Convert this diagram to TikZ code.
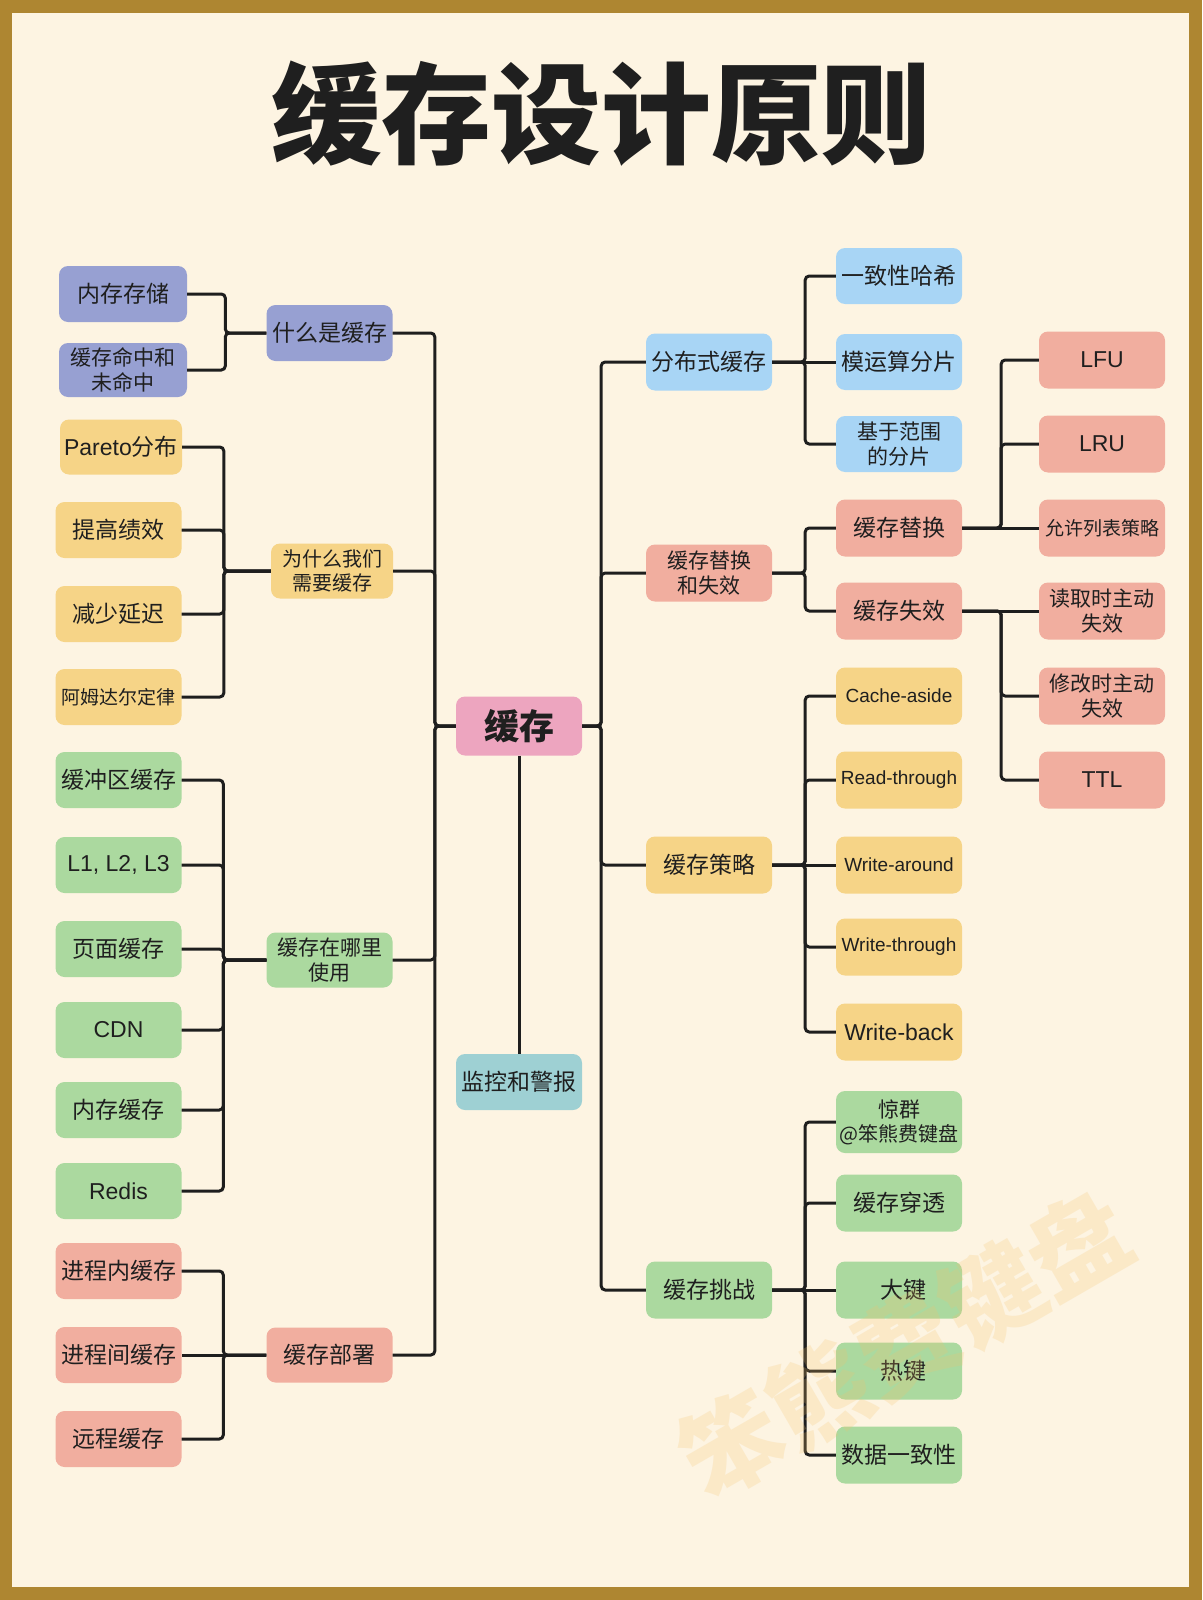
\documentclass[tikz,border=0pt]{standalone}
\usepackage{fontspec}
\setmainfont{Liberation Sans}
\newfontfamily\cjk{Noto Sans CJK SC}
\newfontfamily\lat{Liberation Sans}
\definecolor{gold}{HTML}{AE8631}
\definecolor{cream}{HTML}{FDF4E2}
\definecolor{txt}{HTML}{1F1F1F}
\definecolor{linec}{HTML}{1E1E1E}
\definecolor{cpurple}{HTML}{97A0D2}
\definecolor{cyellow}{HTML}{F6D487}
\definecolor{cgreen}{HTML}{ABD99F}
\definecolor{csalmon}{HTML}{F1AE9F}
\definecolor{cblue}{HTML}{A8D5F5}
\definecolor{cpink}{HTML}{EDA5BF}
\definecolor{cteal}{HTML}{9ED0D3}
\definecolor{wm}{HTML}{F5C26B}
\tikzset{
  box/.style={rounded corners=9pt, minimum width=126pt, minimum height=56pt, inner sep=0pt, align=center, text=txt, font=\cjk\fontsize{23}{26}\selectfont},
  sm/.style={font=\cjk\fontsize{21}{24.5}\selectfont},
  xs/.style={font=\cjk\fontsize{19}{23}\selectfont},
  en/.style={font=\lat\fontsize{19}{22}\selectfont},
  enl/.style={font=\lat\fontsize{23}{26}\selectfont},
  pu/.style={box, fill=cpurple},
  ye/.style={box, fill=cyellow},
  gr/.style={box, fill=cgreen},
  sa/.style={box, fill=csalmon},
  bl/.style={box, fill=cblue},
  conn/.style={draw=linec, line width=3pt, rounded corners=4pt}
}
\begin{document}
\begin{tikzpicture}[x=1pt,y=-1pt]
\fill[gold] (0,0) rectangle (1202,1600);
\fill[cream] (12,13) rectangle (1189,1587);
\useasboundingbox (0,0) rectangle (1202,1600);

% title
\node[text=txt, inner sep=0pt, font=\cjk\bfseries\fontsize{110}{112}\selectfont] (title) at (601,114) {缓存设计原则};

% root
\node[box, fill=cpink, minimum height=59pt, font=\cjk\bfseries\fontsize{35}{38}\selectfont] (root) at (519,726) {缓存};
\node[box, fill=cteal] (mon) at (519,1082) {监控和警报};

% left side
\node[pu, minimum width=128pt] (n11) at (123,294) {内存存储};
\node[pu, sm, minimum width=128pt, minimum height=54pt] (n12) at (123,370) {缓存命中和\\未命中};
\node[pu] (m1) at (329.5,333) {什么是缓存};

\node[ye, minimum width=122pt, minimum height=55pt] (n21) at (121,447) {{\lat Pareto}分布};
\node[ye] (n22) at (118.5,530) {提高绩效};
\node[ye] (n23) at (118.5,614) {减少延迟};
\node[ye, xs] (n24) at (118.5,697) {阿姆达尔定律};
\node[ye, minimum width=122pt, minimum height=55pt, font=\cjk\fontsize{20}{23.5}\selectfont] (m2) at (332,571) {为什么我们\\需要缓存};

\node[gr] (n31) at (118.5,780) {缓冲区缓存};
\node[gr, enl] (n32) at (118.5,865) {L1, L2, L3};
\node[gr] (n33) at (118.5,949) {页面缓存};
\node[gr, enl] (n34) at (118.5,1030) {CDN};
\node[gr] (n35) at (118.5,1110) {内存缓存};
\node[gr, enl] (n36) at (118.5,1191) {Redis};
\node[gr, sm, minimum height=55pt] (m3) at (329.5,960) {缓存在哪里\\使用};

\node[sa] (n41) at (118.5,1271) {进程内缓存};
\node[sa] (n42) at (118.5,1355) {进程间缓存};
\node[sa] (n43) at (118.5,1439) {远程缓存};
\node[sa, minimum height=55pt] (m4) at (329.5,1355) {缓存部署};

% right side
\node[bl, minimum height=57pt] (r1) at (709,362) {分布式缓存};
\node[bl] (c11) at (899,276) {一致性哈希};
\node[bl] (c12) at (899,362) {模运算分片};
\node[bl, sm] (c13) at (899,444) {基于范围\\的分片};

\node[sa, sm, minimum height=57pt] (r2) at (709,573) {缓存替换\\和失效};
\node[sa, minimum height=57pt] (c21) at (899,528) {缓存替换};
\node[sa, minimum height=57pt] (c22) at (899,611) {缓存失效};
\node[sa, enl, minimum height=57pt] (d1) at (1102,360) {LFU};
\node[sa, enl, minimum height=57pt] (d2) at (1102,444) {LRU};
\node[sa, xs, minimum height=57pt] (d3) at (1102,528) {允许列表策略};
\node[sa, sm, minimum height=57pt] (d4) at (1102,611) {读取时主动\\失效};
\node[sa, sm, minimum height=57pt] (d5) at (1102,696) {修改时主动\\失效};
\node[sa, enl, minimum height=57pt] (d6) at (1102,780) {TTL};

\node[ye, minimum height=57pt] (r3) at (709,865) {缓存策略};
\node[ye, en, minimum height=57pt] (c31) at (899,696) {Cache-aside};
\node[ye, en, minimum height=57pt] (c32) at (899,780) {Read-through};
\node[ye, en, minimum height=57pt] (c33) at (899,865) {Write-around};
\node[ye, en, minimum height=57pt] (c34) at (899,947) {Write-through};
\node[ye, enl, minimum height=57pt] (c35) at (899,1032) {Write-back};

\node[gr, minimum height=57pt] (r4) at (709,1290) {缓存挑战};
\node[gr, minimum height=62pt, font=\cjk\fontsize{21}{24}\selectfont] (c41) at (899,1122) {惊群\\{\fontsize{20}{24}\selectfont @笨熊费键盘}};
\node[gr, minimum height=57pt] (c42) at (899,1203) {缓存穿透};
\node[gr, minimum height=57pt] (c43) at (899,1290) {\hspace{8pt}大键};
\node[gr, minimum height=57pt] (c44) at (899,1371) {\hspace{8pt}热键};
\node[gr, minimum height=57pt] (c45) at (899,1455) {数据一致性};

% connectors: root
\foreach \m in {m1,m2,m3,m4}
  \draw[conn] (root.west) -- ++(-21,0) |- (\m.east);
\foreach \r in {r1,r2,r3,r4}
  \draw[conn] (root.east) -- ++(19,0) |- (\r.west);
\draw[conn] (root.south) -- (mon.north);

% left groups
\foreach \c in {n11,n12}
  \draw[conn] (m1.west) -- ++(-41,0) |- (\c.east);
\foreach \c in {n21,n22,n23,n24}
  \draw[conn] (m2.west) -- ++(-47,0) |- (\c.east);
\foreach \c in {n31,n32,n33,n34,n35,n36}
  \draw[conn] (m3.west) -- ++(-43,0) |- (\c.east);
\foreach \c in {n41,n43}
  \draw[conn] (m4.west) -- ++(-43,0) |- (\c.east);
\draw[conn] (m4.west) -- (n42.east);

% right groups
\foreach \c in {c11,c13}
  \draw[conn] (r1.east) -- ++(33,0) |- (\c.west);
\draw[conn] (r1.east) -- (c12.west);
\foreach \c in {c21,c22}
  \draw[conn] (r2.east) -- ++(33,0) |- (\c.west);
\foreach \c in {c31,c32,c34,c35}
  \draw[conn] (r3.east) -- ++(33,0) |- (\c.west);
\draw[conn] (r3.east) -- (c33.west);
\foreach \c in {c41,c42,c44,c45}
  \draw[conn] (r4.east) -- ++(33,0) |- (\c.west);
\draw[conn] (r4.east) -- (c43.west);
\foreach \c in {d1,d2}
  \draw[conn] (c21.east) -- ++(39,0) |- (\c.west);
\draw[conn] (c21.east) -- (d3.west);
\foreach \c in {d5,d6}
  \draw[conn] (c22.east) -- ++(39,0) |- (\c.west);
\draw[conn] (c22.east) -- (d4.west);

% watermark
\node[rotate=30, text=wm, opacity=0.22, font=\cjk\bfseries\fontsize{100}{100}\selectfont] (wmark) at (905,1345) {笨熊费键盘};
\end{tikzpicture}
\end{document}
